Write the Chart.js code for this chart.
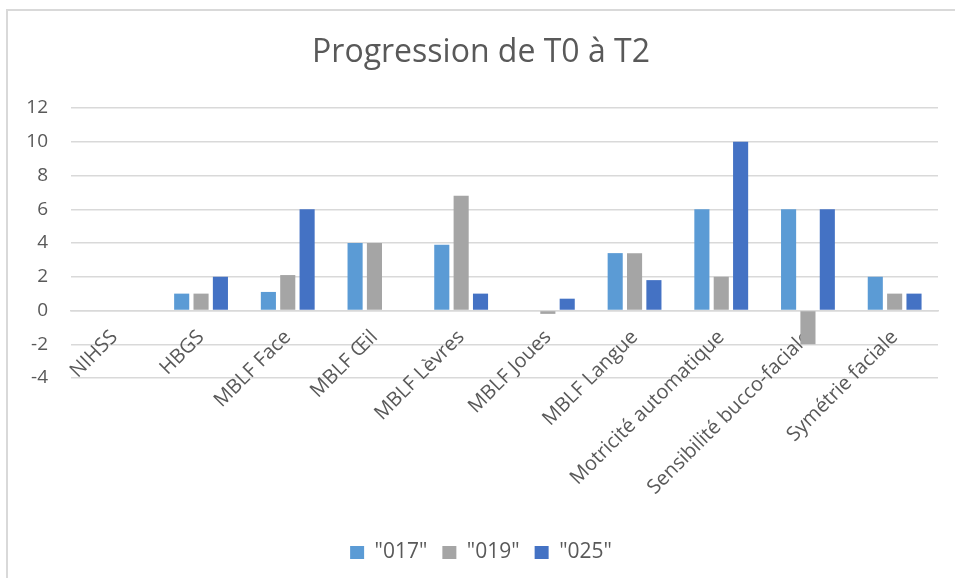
<!DOCTYPE html>
<html>
<head>
<meta charset="utf-8">
<script src="https://cdn.jsdelivr.net/npm/chart.js@4"></script>
<style>
  body { margin: 0; background: #fff; }
  #wrap { position: relative; width: 955px; height: 578px; overflow: hidden; }
  #frame { position: absolute; left: 6px; top: 9px; width: 1000px; height: 700px;
           border-left: 2px solid #d9d9d9; border-top: 2px solid #d9d9d9; }
  canvas { position: absolute; left: 0; top: 0; }
</style>
</head>
<body>
<div id="wrap">
  <div id="frame"></div>
  <canvas id="progressChart" width="955" height="578"></canvas>
</div>
<script>
// Progression de T0 à T2 - grouped bars, one series per patient

const categories = ["NIHSS", "HBGS", "MBLF Face", "MBLF Œil", "MBLF Lèvres", "MBLF Joues",
  "MBLF Langue", "Motricité automatique", "Sensibilité bucco-faciale", "Symétrie faciale"];

const series017 = [0, 1, 1.1, 4, 3.9, 0, 3.4, 6, 6, 2];
const series019 = [0, 1, 2.1, 4, 6.8, -0.2, 3.4, 2, -2, 1];
const series025 = [0, 2, 6, 0, 1, 0.7, 1.8, 10, 6, 1];

const seriesNames = ['"017"', '"019"', '"025"'];
const seriesColors = ["#5B9BD5", "#A5A5A5", "#4472C4"];

const textGrey = "#595959";
const gridGrey = "#D9D9D9";

Chart.defaults.font.family = "'Open Sans', Lato, sans-serif";
Chart.defaults.color = textGrey;

const ctx = document.getElementById("progressChart").getContext("2d");

new Chart(ctx, {
  type: "bar",
  data: {
    labels: categories,
    datasets: [series017, series019, series025].map((values, i) => ({
      label: seriesNames[i],
      data: values,
      backgroundColor: seriesColors[i],
      categoryPercentage: 0.67,
      barPercentage: 0.78
    }))
  },
  options: {
    responsive: false,
    animation: false,
    layout: {
      padding: { top: 10, right: 17, bottom: 5, left: 24 }
    },
    plugins: {
      title: {
        display: true,
        text: "Progression de T0 à T2",
        color: textGrey,
        font: { size: 32, weight: "normal" },
        padding: { top: 24, bottom: 35.6 }
      },
      legend: {
        position: "bottom",
        labels: {
          boxWidth: 14,
          boxHeight: 13,
          padding: 15,
          color: textGrey,
          font: { size: 21 }
        }
      },
      tooltip: { enabled: false }
    },
    scales: {
      x: {
        position: { y: 0 },
        grid: { display: false },
        border: { display: true, color: gridGrey, width: 1.5 },
        ticks: {
          minRotation: 45,
          maxRotation: 45,
          autoSkip: false,
          padding: 7,
          color: textGrey,
          font: { size: 20 }
        }
      },
      // empty axis that only reserves room under the plot for the rotated labels
      xSpace: {
        type: "category",
        position: "bottom",
        grid: { display: false },
        border: { display: false },
        ticks: { display: false },
        afterFit: (scale) => { scale.height = 149; }
      },
      y: {
        min: -4,
        max: 12,
        ticks: {
          stepSize: 2,
          padding: 23,
          color: textGrey,
          font: { size: 19 }
        },
        grid: { color: gridGrey, lineWidth: 1.5, drawTicks: false },
        border: { display: false },
        afterFit: (scale) => { scale.width = 47; }
      }
    }
  }
});
</script>
</body>
</html>
